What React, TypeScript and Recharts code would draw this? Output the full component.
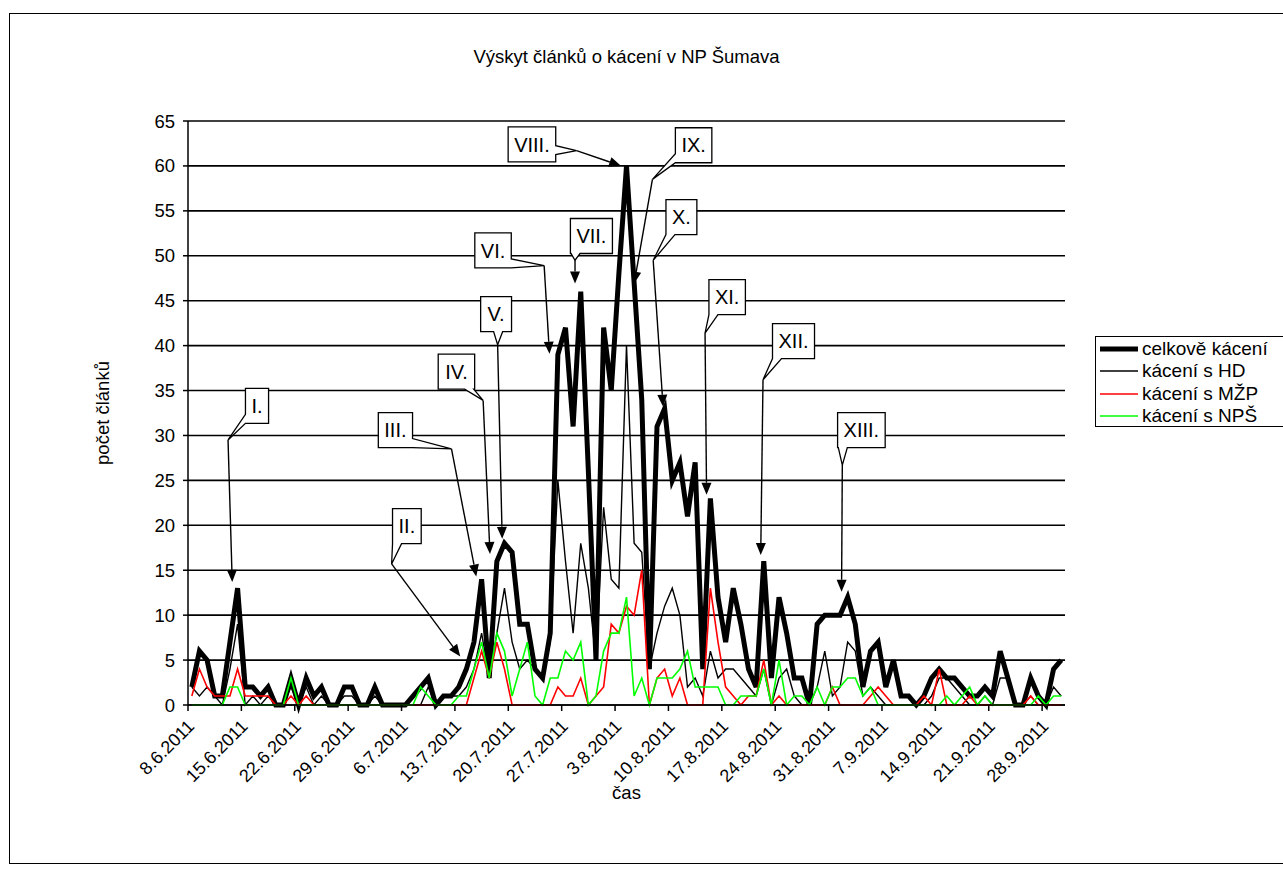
import React from "react";
import { LineChart, Line, XAxis, YAxis, CartesianGrid, ReferenceLine } from "recharts";

// tick labels on the date axis, one every 7 days starting 8.6.2011
const tickLabels = [
  "8.6.2011", "15.6.2011", "22.6.2011", "29.6.2011", "6.7.2011", "13.7.2011",
  "20.7.2011", "27.7.2011", "3.8.2011", "10.8.2011", "17.8.2011", "24.8.2011",
  "31.8.2011", "7.9.2011", "14.9.2011", "21.9.2011", "28.9.2011",
];

const yTicks = [0, 5, 10, 15, 20, 25, 30, 35, 40, 45, 50, 55, 60, 65];

// daily counts 8.6.2011 - 30.9.2011
const totalValues = [
  2, 6, 5, 1, 1, 7, 13, 2, 2, 1,
  2, 0, 0, 3, 0, 3, 1, 2, 0, 0,
  2, 2, 0, 0, 2, 0, 0, 0, 0, 1,
  2, 3, 0, 1, 1, 2, 4, 7, 14, 3,
  16, 18, 17, 9, 9, 4, 3, 8, 39, 42,
  31, 46, 26, 5, 42, 35, 48, 60, 47, 34,
  4, 31, 33, 25, 27, 21, 27, 4, 23, 12,
  7, 13, 9, 4, 2, 16, 3, 12, 8, 3,
  3, 0, 9, 10, 10, 10, 12, 9, 2, 6,
  7, 2, 5, 1, 1, 0, 1, 3, 4, 3,
  3, 2, 1, 1, 2, 1, 6, 3, 0, 0,
  3, 1, 0, 4, 5,
];

const hdValues = [
  2, 1, 2, 1, 0, 4, 9, 0, 1, 0,
  1, 0, 0, 2, 0, 2, 0, 1, 0, 0,
  1, 1, 0, 0, 1, 0, 0, 0, 0, 0,
  0, 2, 0, 1, 1, 1, 2, 4, 8, 3,
  8, 13, 7, 4, 5, 4, 3, 7, 25, 16,
  8, 18, 13, 5, 22, 14, 13, 40, 18, 17,
  4, 8, 11, 13, 10, 2, 3, 1, 6, 3,
  4, 4, 3, 2, 1, 4, 0, 3, 4, 1,
  0, 0, 2, 6, 1, 2, 7, 6, 1, 2,
  1, 0, 0, 0, 0, 0, 0, 1, 3, 3,
  2, 1, 0, 0, 1, 0, 3, 3, 0, 0,
  1, 0, 0, 2, 1,
];

const mzpValues = [
  1, 4, 2, 1, 1, 1, 4, 1, 1, 1,
  1, 0, 0, 1, 0, 1, 0, 0, 0, 0,
  0, 0, 0, 0, 0, 0, 0, 0, 0, 0,
  0, 0, 0, 0, 0, 0, 0, 3, 6, 3,
  7, 4, 0, 0, 0, 0, 0, 0, 2, 1,
  1, 3, 0, 1, 2, 9, 8, 11, 10, 15,
  0, 3, 4, 1, 3, 0, 0, 0, 13, 7,
  2, 1, 0, 1, 1, 5, 0, 1, 0, 0,
  0, 0, 0, 0, 2, 0, 0, 0, 0, 1,
  2, 1, 0, 0, 0, 0, 1, 0, 4, 0,
  0, 0, 1, 0, 0, 0, 0, 0, 0, 0,
  1, 0, 0, 0, 0,
];

const npsValues = [
  0, 0, 0, 0, 0, 2, 2, 0, 0, 0,
  0, 0, 0, 3, 0, 0, 0, 0, 0, 0,
  0, 0, 0, 0, 0, 0, 0, 0, 0, 0,
  2, 1, 0, 0, 0, 1, 1, 4, 7, 3,
  8, 6, 1, 4, 7, 1, 0, 3, 3, 6,
  5, 7, 0, 1, 6, 8, 8, 12, 1, 3,
  0, 3, 3, 3, 4, 6, 2, 2, 2, 2,
  0, 0, 1, 1, 1, 4, 0, 5, 0, 1,
  1, 0, 2, 0, 2, 2, 3, 3, 1, 2,
  0, 0, 0, 0, 0, 0, 0, 0, 0, 1,
  0, 1, 2, 0, 1, 0, 0, 0, 0, 0,
  0, 1, 0, 1, 1,
];

const seriesNames = ["celkově kácení", "kácení s HD", "kácení s MŽP", "kácení s NPŠ"];

// callouts: tip / knee / box centre in chart units (day index, count)
const callouts = [
  { label: "I.", tip: [5.3, 13.7], knee: [4.75, 29.5], box: [8.55, 33.3] },
  { label: "II.", tip: [35.2, 5.4], knee: [26.2, 15.7], box: [28.2, 19.9] },
  { label: "III.", tip: [37.3, 14.3], knee: [34.05, 28.5], box: [26.7, 30.6] },
  { label: "IV.", tip: [39.1, 16.8], knee: [38.2, 33.9], box: [34.7, 37.1] },
  { label: "V.", tip: [40.7, 18.5], knee: [40.1, 40.1], box: [39.9, 43.5] },
  { label: "VI.", tip: [46.9, 39.1], knee: [46.2, 48.9], box: [39.5, 50.6] },
  { label: "VII.", tip: [50.25, 46.9], knee: [50.25, 49.5], box: [52.4, 52.2] },
  { label: "VIII.", tip: [56.3, 60.0], knee: [50.45, 61.7], box: [44.6, 62.4] },
  { label: "IX.", tip: [58.0, 46.9], knee: [60.4, 58.5], box: [65.8, 62.3] },
  { label: "X.", tip: [61.8, 33.2], knee: [60.5, 49.5], box: [64.2, 54.3] },
  { label: "XI.", tip: [67.5, 23.4], knee: [67.3, 41.4], box: [70.2, 45.4] },
  { label: "XII.", tip: [74.6, 16.7], knee: [74.9, 36.2], box: [78.9, 40.5] },
  { label: "XIII.", tip: [85.2, 12.6], knee: [85.3, 26.7], box: [87.8, 30.6] },
];

const data = totalValues.map((v, i) => ({
  day: i,
  total: v,
  hd: hdValues[i],
  mzp: mzpValues[i],
  nps: npsValues[i],
}));

// ticks sit on the boundaries between days
const xTicks = tickLabels.map((_, k) => k * 7 - 0.5);

const FONT = "'Liberation Sans', Arial, sans-serif";

const DateTick = ({ x, y, index }: any) => {
  const ax = x + 3;
  const ay = y + 10;
  return (
    <text
      x={ax}
      y={ay}
      dy="0.35em"
      textAnchor="end"
      fontSize={18}
      fontFamily={FONT}
      fill="#000"
      transform={`rotate(-45, ${ax}, ${ay})`}
    >
      {tickLabels[index]}
    </text>
  );
};

const Arrow = (p: any) => {
  const { x1, y1, x2, y2 } = p;
  const dx = x2 - x1;
  const dy = y2 - y1;
  const len = Math.hypot(dx, dy) || 1;
  const ux = dx / len;
  const uy = dy / len;
  const hl = 12;
  const hw = 5;
  const bx = x2 - ux * hl;
  const by = y2 - uy * hl;
  return (
    <g>
      <line x1={x1} y1={y1} x2={bx} y2={by} stroke="#000" strokeWidth={1.4} />
      <polygon
        points={`${x2},${y2} ${bx - uy * hw},${by + ux * hw} ${bx + uy * hw},${by - ux * hw}`}
        fill="#000"
      />
    </g>
  );
};

const charW = (s: string) =>
  s.split("").reduce((acc, c) => acc + (c === "V" || c === "X" ? 0.667 : 0.278), 0);

const Callout = (p: any) => {
  const { x1: cx, y1: cy, x2: kx, y2: ky, label } = p;
  const fs = 20;
  const w = charW(label) * fs + 12;
  const h = 35;
  const L = cx - w / 2;
  const R = cx + w / 2;
  const T = cy - h / 2;
  const B = cy + h / 2;
  const ex = Math.max(L - kx, kx - R, 0);
  const ey = Math.max(T - ky, ky - B, 0);
  const clamp = (v: number, a: number, b: number) => Math.min(Math.max(v, a), b);
  let d = "";
  if (ex > ey) {
    const b2 = clamp(ky + 4, T + 10, B);
    const b1 = b2 - 9;
    if (kx > R) {
      d = `M${L},${T} H${R} V${b1} L${kx},${ky} L${R},${b2} V${B} H${L} Z`;
    } else {
      d = `M${L},${T} H${R} V${B} H${L} V${b2} L${kx},${ky} L${L},${b1} Z`;
    }
  } else {
    const b1 = clamp(kx - 4, L, R - 10);
    const b2 = b1 + 9;
    if (ky > B) {
      d = `M${L},${T} H${R} V${B} H${b2} L${kx},${ky} L${b1},${B} H${L} Z`;
    } else {
      d = `M${L},${T} H${b1} L${kx},${ky} L${b2},${T} H${R} V${B} H${L} Z`;
    }
  }
  return (
    <g>
      <path d={d} fill="#fff" stroke="#000" strokeWidth={1.3} />
      <text
        x={cx}
        y={cy}
        dy="0.36em"
        textAnchor="middle"
        fontSize={fs}
        fontFamily={FONT}
        fill="#000"
      >
        {label}
      </text>
    </g>
  );
};

const legendItems = [
  { name: seriesNames[0], color: "#000", width: 5 },
  { name: seriesNames[1], color: "#000", width: 1.4 },
  { name: seriesNames[2], color: "#ff0000", width: 1.6 },
  { name: seriesNames[3], color: "#00ff00", width: 1.6 },
];

export default function App() {
  return (
    <div
      style={{
        position: "absolute",
        left: 0,
        top: 0,
        width: 1283,
        height: 878,
        background: "#fff",
        overflow: "hidden",
        fontFamily: FONT,
      }}
    >
      <div
        style={{
          position: "absolute",
          left: 9,
          top: 13,
          width: 1300,
          height: 849,
          border: "1px solid #000",
        }}
      />
      <div style={{ position: "absolute", left: 0, top: 0 }}>
        <LineChart
          width={1283}
          height={878}
          data={data}
          margin={{ top: 121, right: 218, bottom: 83, left: 128 }}
        >
          <CartesianGrid vertical={false} stroke="#000" strokeWidth={1.6} />
          <XAxis
            type="number"
            dataKey="day"
            domain={[-0.5, 114.5]}
            ticks={xTicks}
            interval={0}
            tick={<DateTick />}
            tickSize={6}
            stroke="#000"
            strokeWidth={1.5}
            height={90}
            allowDecimals
          />
          <YAxis
            domain={[0, 65]}
            ticks={yTicks}
            interval={0}
            tickSize={5}
            tickMargin={8}
            width={60}
            stroke="#000"
            strokeWidth={1.5}
            tick={{ fill: "#000", fontSize: 18.5, fontFamily: FONT }}
          />
          <Line
            type="linear"
            dataKey="total"
            name={seriesNames[0]}
            stroke="#000"
            strokeWidth={5}
            dot={false}
            isAnimationActive={false}
          />
          <Line
            type="linear"
            dataKey="hd"
            name={seriesNames[1]}
            stroke="#000"
            strokeWidth={1.4}
            dot={false}
            isAnimationActive={false}
          />
          <Line
            type="linear"
            dataKey="mzp"
            name={seriesNames[2]}
            stroke="#ff0000"
            strokeWidth={1.6}
            dot={false}
            isAnimationActive={false}
          />
          <Line
            type="linear"
            dataKey="nps"
            name={seriesNames[3]}
            stroke="#00ff00"
            strokeWidth={1.6}
            dot={false}
            isAnimationActive={false}
          />
          {callouts.map((c) => (
            <ReferenceLine
              key={`a-${c.label}`}
              segment={[
                { x: c.knee[0], y: c.knee[1] },
                { x: c.tip[0], y: c.tip[1] },
              ]}
              stroke="#000"
              ifOverflow="visible"
              shape={(p: any) => <Arrow {...p} />}
            />
          ))}
          {callouts.map((c) => (
            <ReferenceLine
              key={`b-${c.label}`}
              segment={[
                { x: c.box[0], y: c.box[1] },
                { x: c.knee[0], y: c.knee[1] },
              ]}
              stroke="#000"
              ifOverflow="visible"
              shape={(p: any) => <Callout {...p} label={c.label} />}
            />
          ))}
        </LineChart>
      </div>

      <div
        style={{
          position: "absolute",
          left: 0,
          width: 1253,
          top: 46,
          textAlign: "center",
          fontSize: 18.5,
        }}
      >
        Výskyt článků o kácení v NP Šumava
      </div>
      <div
        style={{
          position: "absolute",
          left: 103,
          top: 413,
          transform: "translate(-50%, -50%) rotate(-90deg)",
          fontSize: 18.5,
          whiteSpace: "nowrap",
        }}
      >
        počet článků
      </div>
      <div
        style={{
          position: "absolute",
          left: 0,
          width: 1253,
          top: 782,
          textAlign: "center",
          fontSize: 18.5,
        }}
      >
        čas
      </div>

      <div
        style={{
          position: "absolute",
          left: 1095,
          top: 336,
          width: 220,
          height: 89,
          border: "1px solid #000",
          background: "#fff",
        }}
      >
        {legendItems.map((it, i) => (
          <div
            key={it.name}
            style={{
              position: "absolute",
              left: 3,
              top: 1 + i * 22.4,
              height: 22,
              display: "flex",
              alignItems: "center",
              whiteSpace: "nowrap",
            }}
          >
            <svg width={40} height={22} style={{ display: "block" }}>
              <line x1={1} y1={11} x2={39} y2={11} stroke={it.color} strokeWidth={it.width} />
            </svg>
            <span style={{ fontSize: 19, marginLeft: 3 }}>{it.name}</span>
          </div>
        ))}
      </div>
    </div>
  );
}
